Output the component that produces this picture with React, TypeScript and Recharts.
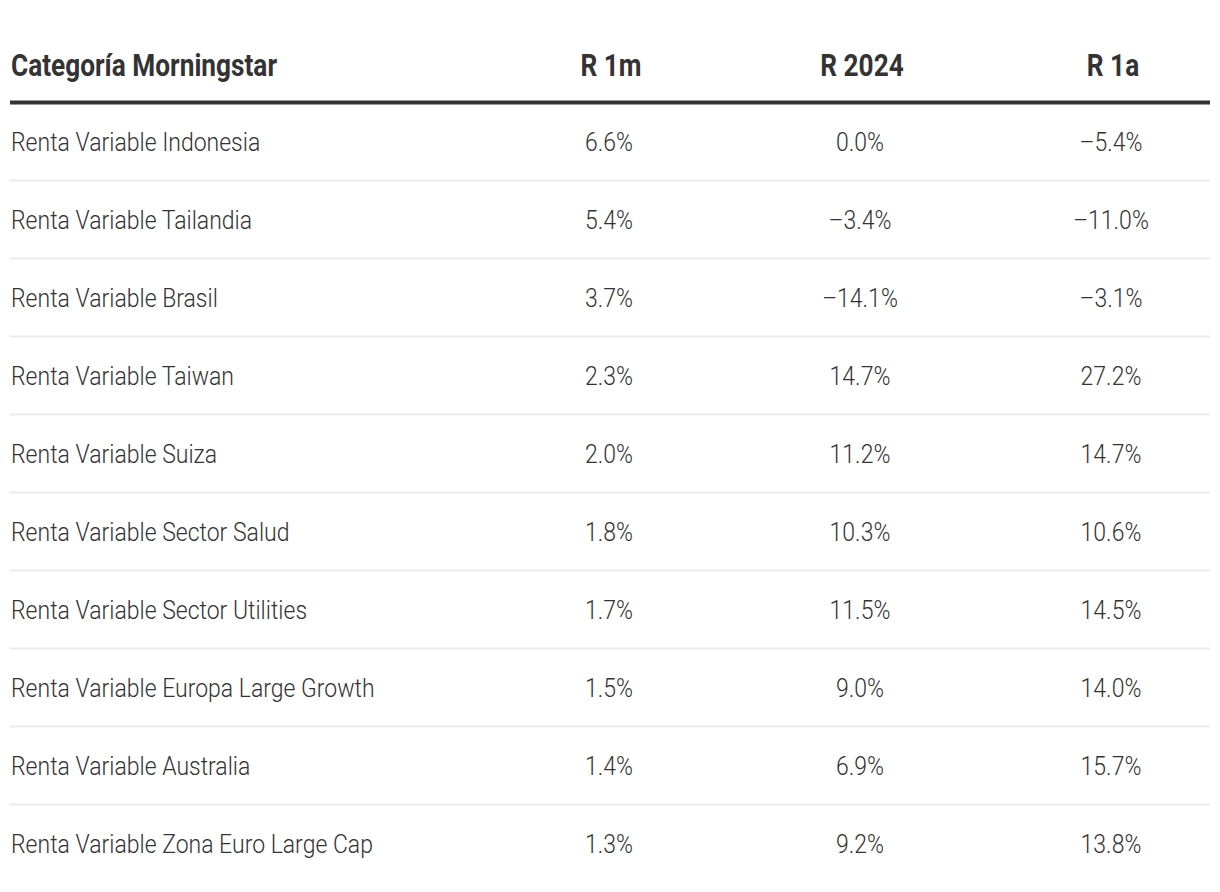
import React from 'react';
import { ScatterChart, Scatter, XAxis, YAxis, ReferenceLine } from 'recharts';

const headerTitle = 'Categoría Morningstar';
const columns = ['R 1m', 'R 2024', 'R 1a'];
const categories = [
  'Renta Variable Indonesia',
  'Renta Variable Tailandia',
  'Renta Variable Brasil',
  'Renta Variable Taiwan',
  'Renta Variable Suiza',
  'Renta Variable Sector Salud',
  'Renta Variable Sector Utilities',
  'Renta Variable Europa Large Growth',
  'Renta Variable Australia',
  'Renta Variable Zona Euro Large Cap',
];
const r1m = [6.6, 5.4, 3.7, 2.3, 2.0, 1.8, 1.7, 1.5, 1.4, 1.3];
const r2024 = [0.0, -3.4, -14.1, 14.7, 11.2, 10.3, 11.5, 9.0, 6.9, 9.2];
const r1a = [-5.4, -11.0, -3.1, 27.2, 14.7, 10.6, 14.5, 14.0, 15.7, 13.8];

const seriesValues = [r1m, r2024, r1a];

const FONT = 'Roboto, "Liberation Sans", sans-serif';
const BODY_SIZE = 25;
const BODY_SCALE = 0.92;
const HEAD_SIZE = 30.5;
const HEAD_SCALE = 0.86;
const TEXT_COLOR = '#333333';

const fmt = (v: number) => (v < 0 ? '\u2013' : '') + Math.abs(v).toFixed(1) + '%';

const RowTick = (props: any) => {
  const { x, y, payload } = props;
  return (
    <text
      transform={`translate(${x},${y + 9}) scale(${BODY_SCALE},1)`}
      textAnchor="start"
      fontFamily={FONT}
      fontSize={BODY_SIZE}
      fontWeight={300}
      fill={TEXT_COLOR}
    >
      {payload.value}
    </text>
  );
};

const ColumnTick = (props: any) => {
  const { x, y, payload } = props;
  return (
    <text
      transform={`translate(${x + 2},${y - 26.5}) scale(${HEAD_SCALE},1)`}
      textAnchor="middle"
      fontFamily={FONT}
      fontSize={HEAD_SIZE}
      fontWeight={700}
      fill={TEXT_COLOR}
    >
      {payload.value}
    </text>
  );
};

const HeaderLabel = (props: any) => {
  const vb = props.viewBox || { x: 0, y: 0, width: 0, height: 0 };
  return (
    <text
      transform={`translate(${vb.x + 1},${vb.y + vb.height - 26.5}) scale(${HEAD_SCALE},1)`}
      textAnchor="start"
      fontFamily={FONT}
      fontSize={HEAD_SIZE}
      fontWeight={700}
      fill={TEXT_COLOR}
    >
      {headerTitle}
    </text>
  );
};

const CellText = (props: any) => {
  const { cx, cy, payload } = props;
  return (
    <text
      transform={`translate(${cx},${cy + 9}) scale(${BODY_SCALE},1)`}
      textAnchor="middle"
      fontFamily={FONT}
      fontSize={BODY_SIZE}
      fontWeight={300}
      fill={TEXT_COLOR}
    >
      {fmt(payload.value)}
    </text>
  );
};

const columnData = columns.map((col, ci) =>
  categories.map((row, ri) => ({ col, row, value: seriesValues[ci][ri] }))
);

export default function App() {
  return (
    <ScatterChart
      width={1212}
      height={884}
      margin={{ top: 0, right: 10, bottom: 9.5, left: 2 }}
    >
      <XAxis
        xAxisId={0}
        type="category"
        dataKey="col"
        orientation="top"
        allowDuplicatedCategory={false}
        height={94.5}
        padding={{ left: 473.5, right: -26.5 }}
        axisLine={{ stroke: '#333333', strokeWidth: 4 }}
        tickLine={false}
        tickSize={0}
        tickMargin={0}
        interval={0}
        tick={ColumnTick}
        label={HeaderLabel}
      />
      <YAxis
        yAxisId={0}
        type="category"
        dataKey="row"
        allowDuplicatedCategory={false}
        reversed
        mirror
        axisLine={false}
        tickLine={false}
        tickSize={0}
        tickMargin={1}
        interval={0}
        tick={RowTick}
      />
      {categories.slice(0, -1).map((c) => (
        <ReferenceLine
          key={c}
          xAxisId={0}
          yAxisId={0}
          y={c}
          position="end"
          stroke="#ebebeb"
          strokeWidth={2}
        />
      ))}
      {columnData.map((d, i) => (
        <Scatter
          key={columns[i]}
          xAxisId={0}
          yAxisId={0}
          data={d}
          shape={CellText}
          isAnimationActive={false}
        />
      ))}
    </ScatterChart>
  );
}
